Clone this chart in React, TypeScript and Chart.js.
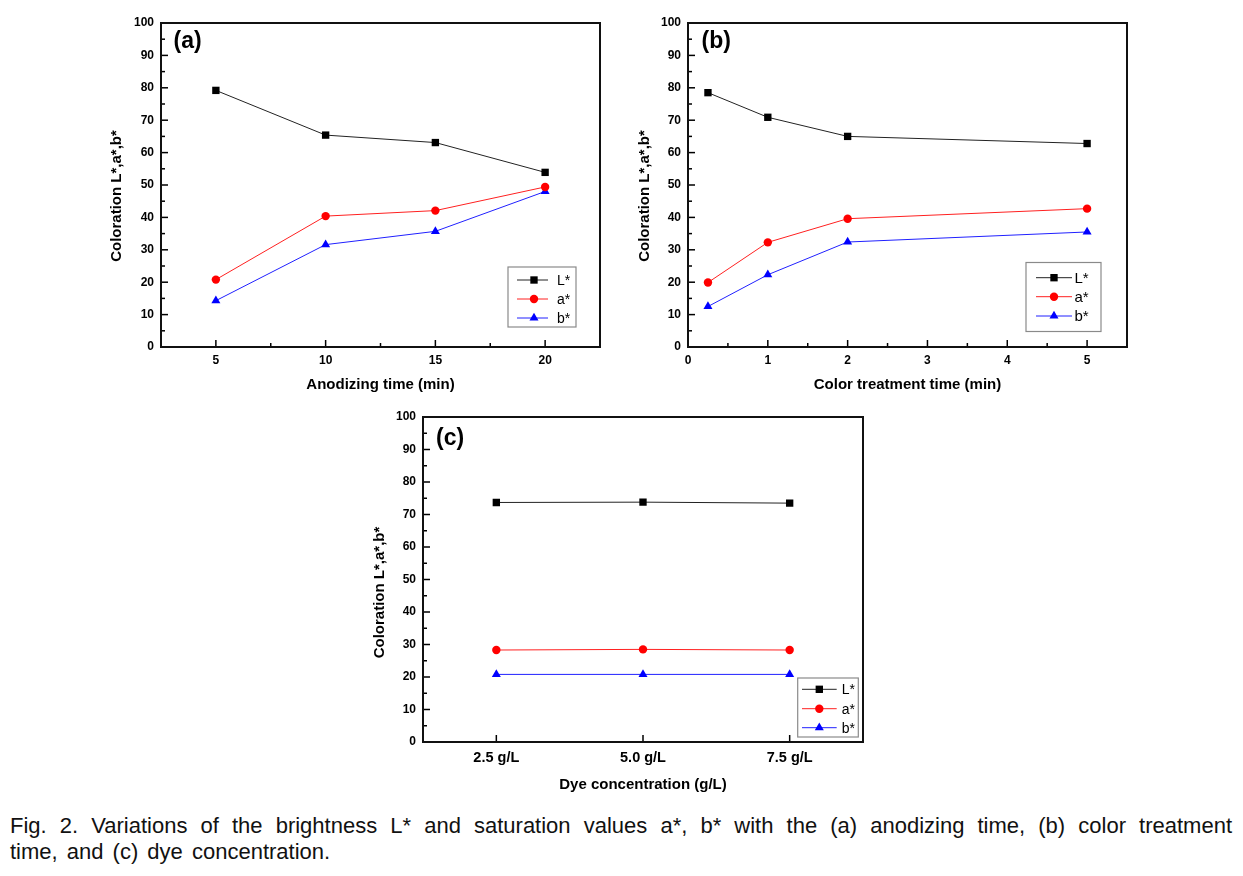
import React, { useEffect, useRef } from "react";
import { Chart, registerables } from "chart.js";

Chart.register(...registerables);

// ---------- data ----------
const yTickValues = [0, 10, 20, 30, 40, 50, 60, 70, 80, 90, 100];
const yMinorValues = [5, 15, 25, 35, 45, 55, 65, 75, 85, 95];
const seriesNames = ["L*", "a*", "b*"];

// (a) anodizing time
const aTime = [5, 10, 15, 20];
const aL = [79.2, 65.4, 63.1, 53.9];
const aA = [20.8, 40.4, 42.1, 49.4];
const aB = [14.3, 31.6, 35.7, 48.0];
const aXTicks = [5, 10, 15, 20];
const aXMinor = [7.5, 12.5, 17.5];

// (b) color treatment time
const bTime = [0.25, 1, 2, 5];
const bL = [78.5, 70.9, 65.0, 62.8];
const bA = [19.9, 32.3, 39.6, 42.7];
const bB = [12.5, 22.3, 32.4, 35.5];
const bXTicks = [0, 1, 2, 3, 4, 5];
const bXMinor = [0.5, 1.5, 2.5, 3.5, 4.5];

// (c) dye concentration
const cConc = ["2.5 g/L", "5.0 g/L", "7.5 g/L"];
const cL = [73.7, 73.8, 73.5];
const cA = [28.3, 28.5, 28.3];
const cB = [20.8, 20.8, 20.8];

// ---------- styles ----------
const FONT = "'Liberation Sans', Arial, Helvetica, sans-serif";
const markerStyles = [
  { point: "rect", radius: 5.2, fill: "#000000", line: "#222222" },
  { point: "circle", radius: 4.2, fill: "#ff0000", line: "#ff2020" },
  { point: "triangle", radius: 5.2, fill: "#0000ff", line: "#2020ff" },
];

type Legend = {
  x: number; y: number; w: number; h: number;
  lx0: number; lx1: number; mx: number; tx: number;
  rows: number[]; size: number;
};

type Panel = {
  key: string;
  left: number; top: number; width: number; height: number;
  padTop: number; padRight: number; yW: number; xH: number;
  yTitleX: number; yTitleY: number;
  label: string; labelDx: number; labelY: number;
  xTitle: string; xTickSize: number; xTickPad: number; xTitlePad: number;
  category: boolean;
  xMin?: number; xMax?: number;
  xTicks: number[]; xMinor: number[];
  labels?: string[];
  xs?: number[];
  ys: number[][];
  legend: Legend;
};

const panels: Panel[] = [
  {
    key: "a", left: 100, top: 0, width: 520, height: 400,
    padTop: 23, padRight: 20, yW: 61, xH: 53,
    yTitleX: 17, yTitleY: 196,
    label: "(a)", labelDx: 12.5, labelY: 42,
    xTitle: "Anodizing time (min)", xTickSize: 12, xTickPad: 6, xTitlePad: 6,
    category: false, xMin: 2.5, xMax: 22.5,
    xTicks: aXTicks, xMinor: aXMinor, xs: aTime, ys: [aL, aA, aB],
    legend: { x: 408, y: 267, w: 68, h: 60, lx0: 417, lx1: 448, mx: 434, tx: 457, rows: [280, 299, 318], size: 14 },
  },
  {
    key: "b", left: 630, top: 0, width: 520, height: 400,
    padTop: 23, padRight: 23, yW: 58, xH: 53,
    yTitleX: 15, yTitleY: 196,
    label: "(b)", labelDx: 13.5, labelY: 42,
    xTitle: "Color treatment time (min)", xTickSize: 12, xTickPad: 6, xTitlePad: 6,
    category: false, xMin: 0, xMax: 5.5,
    xTicks: bXTicks, xMinor: bXMinor, xs: bTime, ys: [bL, bA, bB],
    legend: { x: 396, y: 262.5, w: 75, h: 69, lx0: 406, lx1: 442, mx: 424, tx: 444.5, rows: [277.7, 296.7, 316], size: 15 },
  },
  {
    key: "c", left: 360, top: 400, width: 520, height: 400,
    padTop: 17, padRight: 17, yW: 63, xH: 58,
    yTitleX: 20, yTitleY: 192.5,
    label: "(c)", labelDx: 13, labelY: 38.5,
    xTitle: "Dye concentration (g/L)", xTickSize: 14.5, xTickPad: 7, xTitlePad: 6,
    category: true,
    xTicks: [0, 1, 2], xMinor: [], labels: cConc, ys: [cL, cA, cB],
    legend: { x: 437.7, y: 278, w: 60.6, h: 59, lx0: 442, lx1: 476.7, mx: 459.3, tx: 481.7, rows: [289.3, 308.7, 327.7], size: 14 },
  },
];

function drawMarker(ctx: CanvasRenderingContext2D, kind: string, x: number, y: number, r: number, color: string) {
  ctx.fillStyle = color;
  ctx.beginPath();
  if (kind === "rect") {
    const s = r * Math.SQRT1_2;
    ctx.rect(x - s, y - s, 2 * s, 2 * s);
  } else if (kind === "circle") {
    ctx.arc(x, y, r, 0, Math.PI * 2);
  } else {
    let a = 0;
    ctx.moveTo(x + Math.sin(a) * r, y - Math.cos(a) * r);
    a += (2 * Math.PI) / 3;
    ctx.lineTo(x + Math.sin(a) * r, y - Math.cos(a) * r);
    a += (2 * Math.PI) / 3;
    ctx.lineTo(x + Math.sin(a) * r, y - Math.cos(a) * r);
    ctx.closePath();
  }
  ctx.fill();
}

function makeDecor(p: Panel) {
  return {
    id: "decor_" + p.key,
    afterDraw(chart: any) {
      const ctx: CanvasRenderingContext2D = chart.ctx;
      const ca = chart.chartArea;
      const xs = chart.scales.x;
      const ys = chart.scales.y;
      ctx.save();
      ctx.strokeStyle = "#000";
      ctx.lineWidth = 1.5;
      const seg = (x0: number, y0: number, x1: number, y1: number) => {
        ctx.beginPath();
        ctx.moveTo(x0, y0);
        ctx.lineTo(x1, y1);
        ctx.stroke();
      };
      yTickValues.forEach((v) => { const py = ys.getPixelForValue(v); seg(ca.left, py, ca.left + 7, py); });
      yMinorValues.forEach((v) => { const py = ys.getPixelForValue(v); seg(ca.left, py, ca.left + 4, py); });
      p.xTicks.forEach((v) => { const px = xs.getPixelForValue(v); seg(px, ca.bottom, px, ca.bottom - 7); });
      p.xMinor.forEach((v) => { const px = xs.getPixelForValue(v); seg(px, ca.bottom, px, ca.bottom - 4); });
      ctx.lineWidth = 2;
      ctx.strokeStyle = "#111";
      ctx.strokeRect(ca.left, ca.top, ca.right - ca.left, ca.bottom - ca.top);

      // panel label
      ctx.fillStyle = "#000";
      ctx.font = `bold 23px ${FONT}`;
      ctx.textBaseline = "middle";
      ctx.textAlign = "left";
      ctx.fillText(p.label, ca.left + p.labelDx, p.labelY);

      // y title
      ctx.save();
      ctx.translate(p.yTitleX, p.yTitleY);
      ctx.rotate(-Math.PI / 2);
      ctx.font = `bold 15px ${FONT}`;
      ctx.textAlign = "center";
      ctx.textBaseline = "middle";
      ctx.fillText("Coloration L*,a*,b*", 0, 0);
      ctx.restore();

      // legend
      const L = p.legend;
      ctx.fillStyle = "#fff";
      ctx.fillRect(L.x, L.y, L.w, L.h);
      ctx.strokeStyle = "#8a8a8a";
      ctx.lineWidth = 1.2;
      ctx.strokeRect(L.x, L.y, L.w, L.h);
      ctx.font = `${L.size}px ${FONT}`;
      ctx.textAlign = "left";
      ctx.textBaseline = "middle";
      seriesNames.forEach((name, i) => {
        const m = markerStyles[i];
        const ry = L.rows[i];
        ctx.strokeStyle = m.line;
        ctx.lineWidth = 1;
        seg(L.lx0, ry, L.lx1, ry);
        drawMarker(ctx, m.point, L.mx, ry, m.radius, m.fill);
        ctx.fillStyle = "#000";
        ctx.fillText(name, L.tx, ry + 1);
      });
      ctx.restore();
    },
  };
}

function ChartPanel({ p }: { p: Panel }) {
  const ref = useRef<HTMLCanvasElement | null>(null);
  useEffect(() => {
    if (!ref.current) return;
    const datasets = p.ys.map((vals, i) => {
      const m = markerStyles[i];
      return {
        label: seriesNames[i],
        data: p.category ? vals : vals.map((v, j) => ({ x: (p.xs as number[])[j], y: v })),
        borderColor: m.line,
        borderWidth: 1,
        pointStyle: m.point,
        pointRadius: m.radius,
        pointBackgroundColor: m.fill,
        pointBorderColor: m.fill,
        pointBorderWidth: 0,
        tension: 0,
        fill: false,
      };
    });
    const tickFont = { family: FONT, size: 12, weight: "bold" as const };
    const xScale: any = p.category
      ? { type: "category", labels: p.labels, offset: true }
      : {
          type: "linear", min: p.xMin, max: p.xMax,
          afterBuildTicks: (s: any) => { s.ticks = p.xTicks.map((v) => ({ value: v })); },
        };
    Object.assign(xScale, {
      afterFit: (s: any) => { s.height = p.xH; },
      grid: { display: false, drawTicks: false },
      border: { display: false },
      ticks: { font: { ...tickFont, size: p.xTickSize }, color: "#000", padding: p.xTickPad, maxRotation: 0, autoSkip: false },
      title: { display: true, text: p.xTitle, color: "#000", font: { family: FONT, size: 15, weight: "bold" }, padding: { top: 0, bottom: p.xTitlePad } },
    });
    const chart = new Chart(ref.current, {
      type: "line",
      data: { labels: p.category ? p.labels : undefined, datasets: datasets as any },
      options: {
        animation: false,
        responsive: false,
        maintainAspectRatio: false,
        devicePixelRatio: 1,
        layout: { padding: { top: p.padTop, right: p.padRight, left: 0, bottom: 0 } },
        plugins: { legend: { display: false }, tooltip: { enabled: false } },
        scales: {
          x: xScale,
          y: {
            type: "linear", min: 0, max: 100,
            afterFit: (s: any) => { s.width = p.yW; },
            grid: { display: false, drawTicks: false },
            border: { display: false },
            ticks: { stepSize: 10, font: tickFont, color: "#000", padding: 7 },
          },
        },
      },
      plugins: [makeDecor(p)],
    } as any);
    return () => chart.destroy();
  }, [p]);
  return (
    <canvas
      ref={ref}
      width={p.width}
      height={p.height}
      style={{ position: "absolute", left: p.left, top: p.top, width: p.width, height: p.height }}
    />
  );
}

const captionLine1 = "Fig. 2. Variations of the brightness L* and saturation values a*, b* with the (a) anodizing time, (b) color treatment";
const captionLine2 = "time, and (c) dye concentration.";

export default function App() {
  return (
    <div style={{ position: "absolute", left: 0, top: 0, width: 1243, height: 876, background: "#fff", overflow: "hidden" }}>
      {panels.map((p) => (
        <ChartPanel key={p.key} p={p} />
      ))}
      <div
        style={{
          position: "absolute", left: 10, top: 813, width: 1222,
          fontFamily: FONT, fontSize: 22, lineHeight: "26px", color: "#111",
        }}
      >
        <div style={{ textAlign: "justify", textAlignLast: "justify", whiteSpace: "nowrap" } as any}>{captionLine1}</div>
        <div style={{ wordSpacing: 3 }}>{captionLine2}</div>
      </div>
    </div>
  );
}
